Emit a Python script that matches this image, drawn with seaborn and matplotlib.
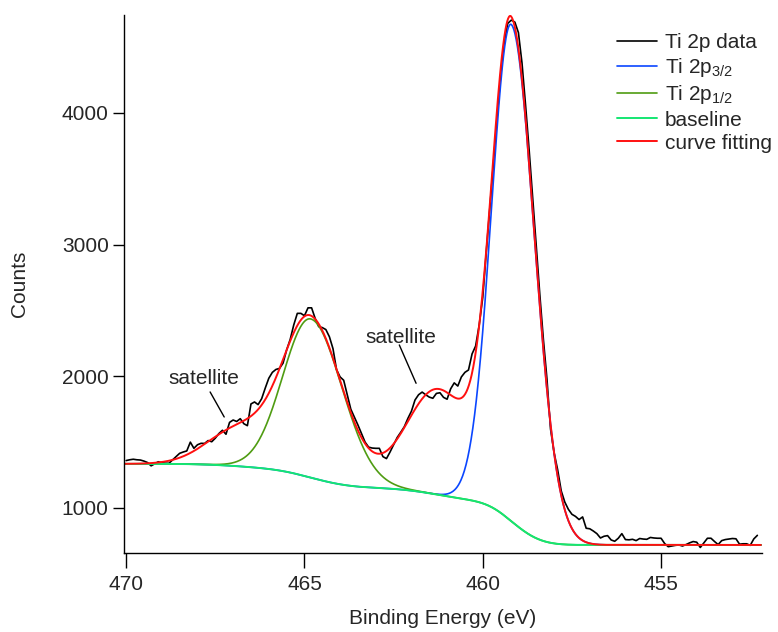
import numpy as np
import pandas as pd
import matplotlib
matplotlib.use("Agg")
import matplotlib.pyplot as plt
import seaborn as sns

# Measured Ti 2p spectrum, 0.1 eV steps starting at 470.0 eV (decreasing)
energy_start = 470.0
energy_step = 0.1
counts = [
    1360, 1366, 1370, 1366, 1364, 1356, 1345, 1320, 1335, 1351,   # 470.0-469.1
    1343, 1340, 1339, 1365, 1390, 1415, 1425, 1433, 1500, 1453,   # 469.0-468.1
    1480, 1491, 1490, 1512, 1503, 1530, 1565, 1590, 1560, 1650,   # 468.0-467.1
    1668, 1657, 1678, 1640, 1625, 1790, 1805, 1785, 1830, 1910,   # 467.0-466.1
    1985, 2030, 2052, 2060, 2100, 2200, 2280, 2390, 2478, 2478,   # 466.0-465.1
    2460, 2520, 2520, 2440, 2377, 2370, 2355, 2300, 2210, 2050,   # 465.0-464.1
    1995, 1970, 1860, 1750, 1690, 1630, 1565, 1500, 1462, 1455,   # 464.0-463.1
    1453, 1453, 1390, 1375, 1425, 1480, 1535, 1575, 1617, 1680,   # 463.0-462.1
    1735, 1820, 1860, 1880, 1860, 1842, 1833, 1870, 1875, 1840,   # 462.0-461.1
    1826, 1905, 1950, 1926, 1995, 2030, 2048, 2170, 2230, 2390,   # 461.0-460.1
    2600, 2950, 3280, 3620, 3960, 4280, 4530, 4680, 4705, 4690,   # 460.0-459.1
    4610, 4380, 4060, 3720, 3360, 2990, 2620, 2280, 1980, 1600,   # 459.0-458.1
    1420, 1290, 1130, 1045, 990, 952, 936, 912, 932, 846,         # 458.0-457.1
    842, 825, 805, 772, 785, 790, 757, 747, 770, 805,             # 457.0-456.1
    760, 758, 762, 752, 768, 764, 762, 776, 772, 770,             # 456.0-455.1
    770, 730, 706, 711, 716, 719, 711, 722, 735, 745,             # 455.0-454.1
    740, 700, 735, 770, 770, 745, 722, 752, 760, 764,             # 454.0-453.1
    768, 766, 725, 728, 728, 716, 765, 792,                       # 453.0-452.3
]

# Fitted components: Ti 2p3/2, satellite, Ti 2p1/2, satellite
peak_centers = [459.20, 461.25, 464.82, 466.80]
peak_heights = [3772, 800, 1205, 285]
sigma_low_be = [0.65, 0.90, 0.88, 0.90]
sigma_high_be = [0.55, 0.90, 0.78, 0.90]
baseline_low = 719
baseline_high = 1335

x_ticks = [470, 465, 460, 455]
y_ticks = [1000, 2000, 3000, 4000]

satellite_text_pos = [(467.81, 1987), (462.29, 2291)]
satellite_leaders = [((467.645, 1881), (467.25, 1691)),
                     ((462.34, 2238), (461.87, 1947))]

colors = {
    "data": "#000000",
    "p32": "#0a46ff",
    "p12": "#4f9c12",
    "baseline": "#14e672",
    "fit": "#ff1010",
}

# ---- curves ----
energy = np.round(energy_start - energy_step * np.arange(len(counts)), 2)
data_df = pd.DataFrame({"energy": energy, "counts": counts})

fine = np.linspace(452.2, 470.06, 1500)


def component(e, c, h, s_lo, s_hi):
    s = np.where(e < c, s_lo, s_hi)
    return h * np.exp(-0.5 * ((e - c) / s) ** 2)


comps = [component(fine, c, h, sl, sh) for c, h, sl, sh in
         zip(peak_centers, peak_heights, sigma_low_be, sigma_high_be)]
total = np.sum(comps, axis=0)
# Shirley-type background: proportional to integrated peak area from low BE side
cum = np.cumsum(total)
baseline = baseline_low + (baseline_high - baseline_low) * cum / cum[-1]
p32 = baseline + comps[0]
p12 = baseline + comps[2]
fit = baseline + total

# ---- figure ----
sns.set_style("ticks")
plt.rcParams["font.family"] = ["Liberation Sans", "DejaVu Sans"]
plt.rcParams["mathtext.fontset"] = "custom"
plt.rcParams["mathtext.rm"] = "Liberation Sans"
plt.rcParams["mathtext.it"] = "Liberation Sans:italic"

fig = plt.figure(figsize=(7.78, 6.32), dpi=100)
ax = fig.add_axes([124 / 778, 79 / 632, 638 / 778, 538 / 632])

sns.lineplot(data=data_df, x="energy", y="counts", ax=ax, color=colors["data"],
             lw=1.2, label="Ti 2p data", estimator=None, sort=False)
sns.lineplot(x=fine, y=p32, ax=ax, color=colors["p32"], lw=1.2,
             label=r"Ti 2p$_{\mathregular{3/2}}$", estimator=None, sort=False)
sns.lineplot(x=fine, y=p12, ax=ax, color=colors["p12"], lw=1.2,
             label=r"Ti 2p$_{\mathregular{1/2}}$", estimator=None, sort=False)
sns.lineplot(x=fine, y=baseline, ax=ax, color=colors["baseline"], lw=1.4,
             label="baseline", estimator=None, sort=False)
sns.lineplot(x=fine, y=fit, ax=ax, color=colors["fit"], lw=1.4,
             label="curve fitting", estimator=None, sort=False)

ax.set_xlim(470.06, 452.17)
ax.set_ylim(658, 4744)
ax.set_xticks(x_ticks)
ax.set_yticks(y_ticks)
ax.set_xlabel("Binding Energy (eV)", fontsize=15, labelpad=11)
ax.set_ylabel("Counts", fontsize=15, labelpad=24)

for side in ("top", "right"):
    ax.spines[side].set_visible(False)
for side in ("left", "bottom"):
    ax.spines[side].set_linewidth(1.0)
    ax.spines[side].set_color("black")
ax.tick_params(axis="y", direction="out", length=8, width=1.0,
               labelsize=15, pad=3, color="black")
ax.tick_params(axis="x", direction="out", length=11, width=1.0,
               labelsize=15, pad=5, color="black")

for (tx, ty) in satellite_text_pos:
    ax.text(tx, ty, "satellite", fontsize=15, ha="center", va="center")
for (p0, p1) in satellite_leaders:
    ax.plot([p0[0], p1[0]], [p0[1], p1[1]], color="black", lw=1.0)

ax.legend(loc="upper left", bbox_to_anchor=(617 / 778, 1 - 33 / 632),
          bbox_transform=fig.transFigure, frameon=False, fontsize=15,
          handlelength=1.9, handletextpad=0.4, labelspacing=0.2,
          borderaxespad=0, borderpad=0)

fig.savefig("out.png", dpi=100)
